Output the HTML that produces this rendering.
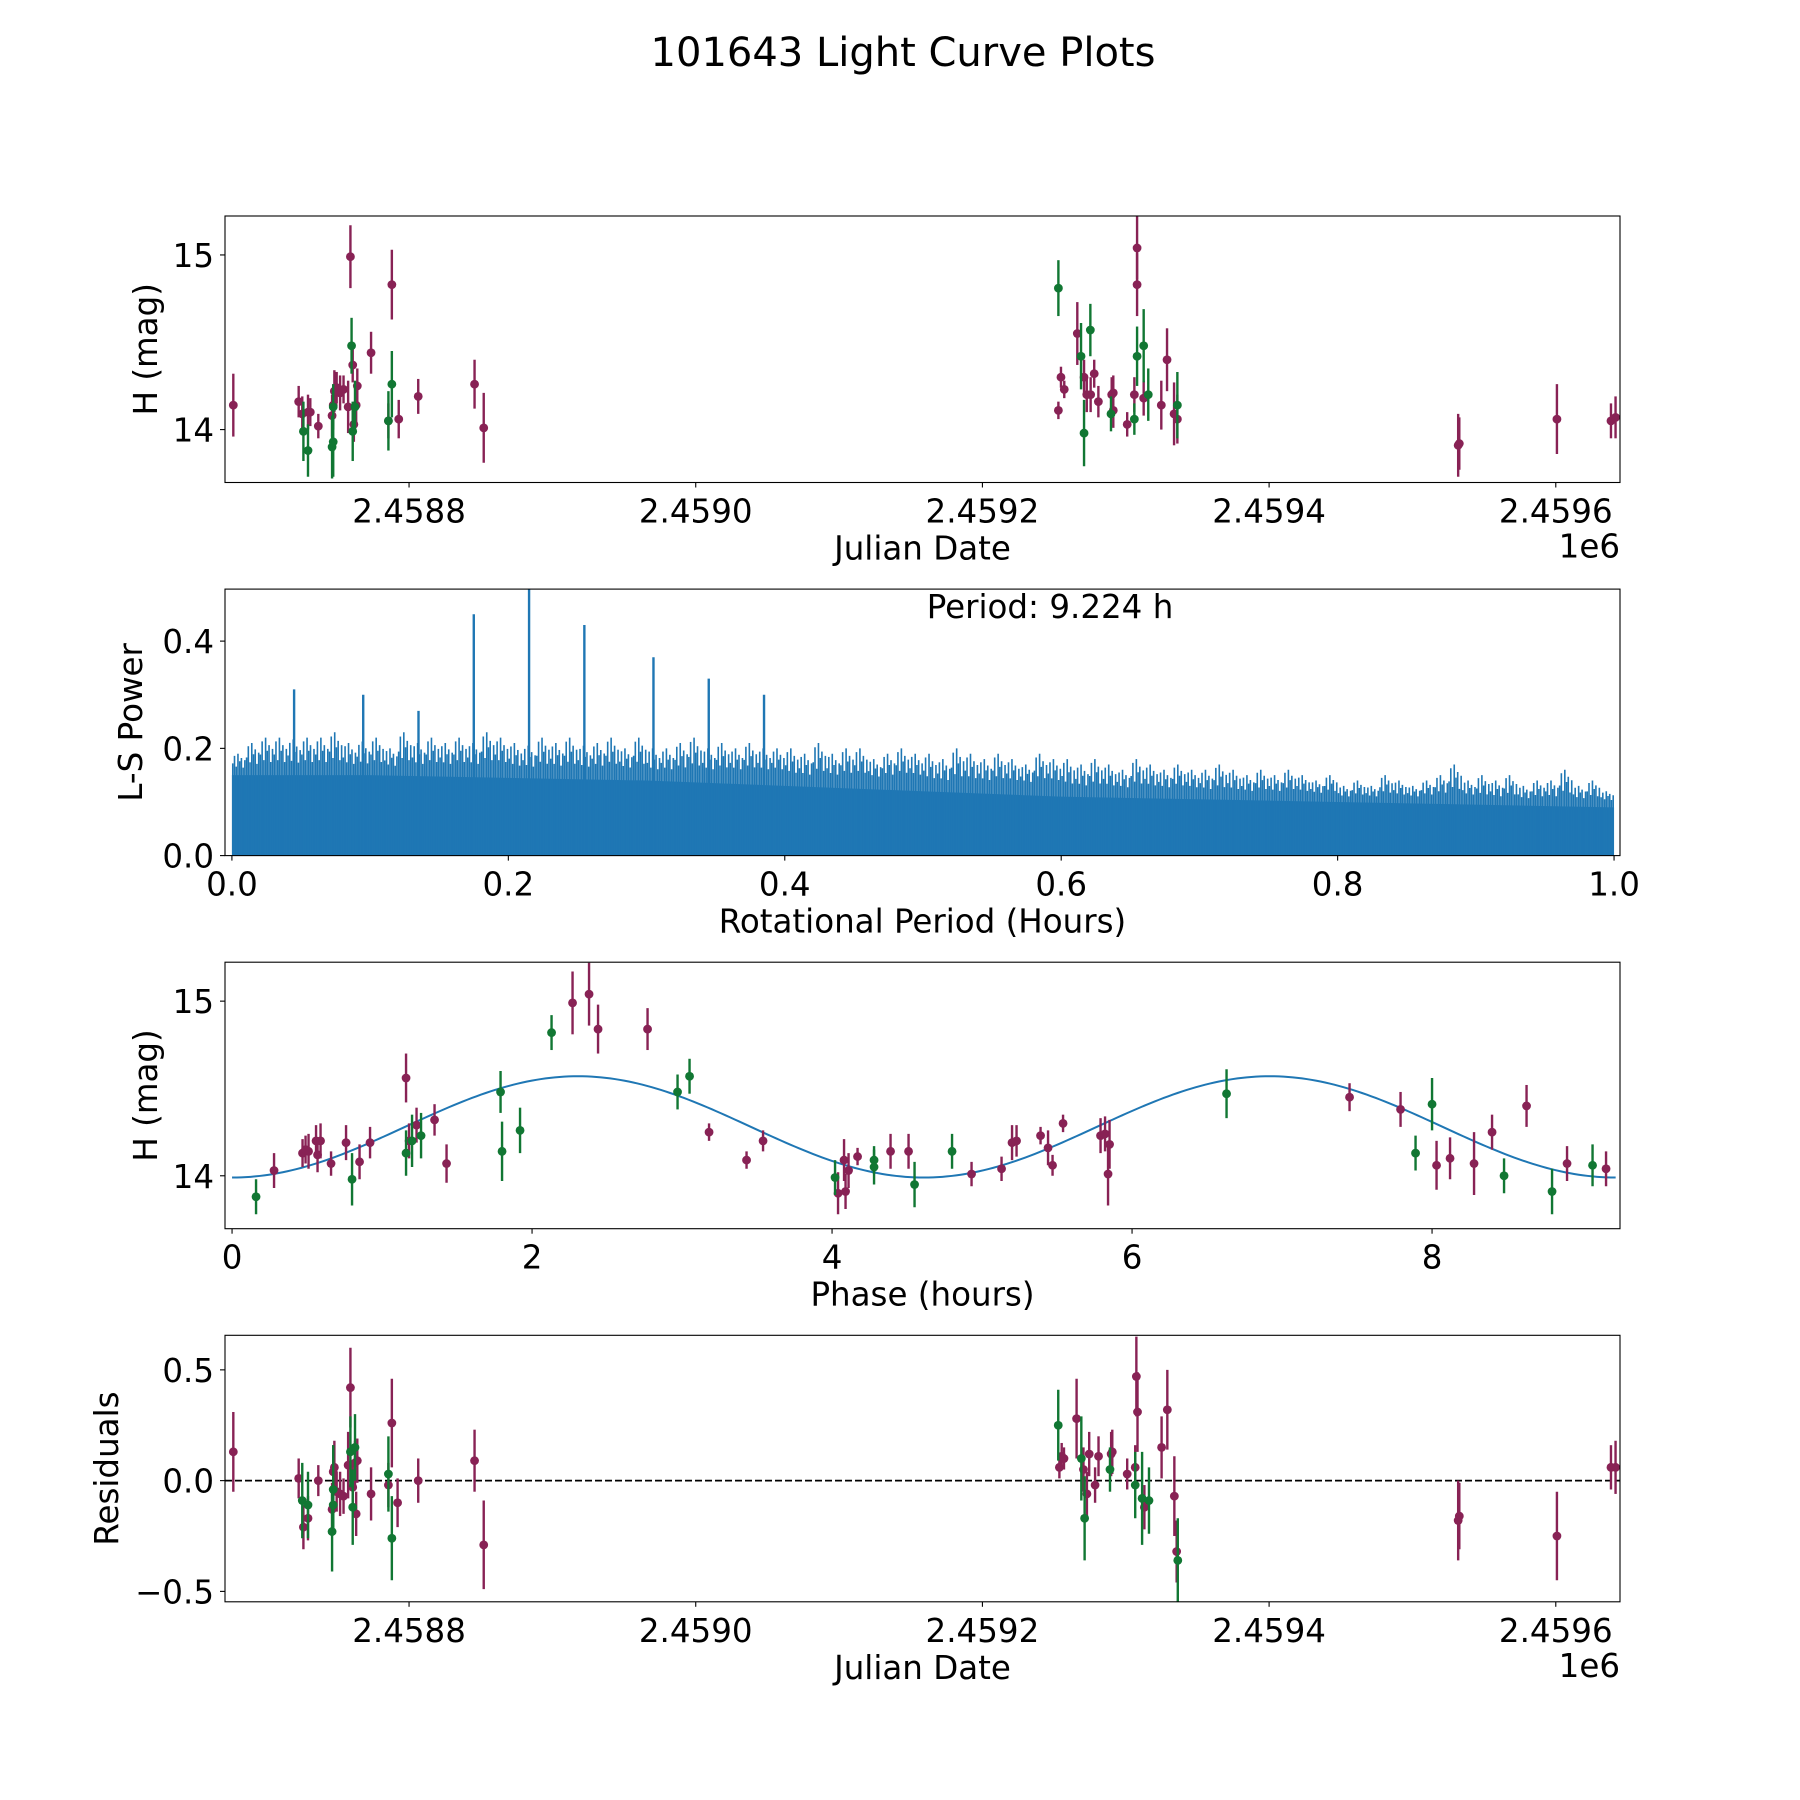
<!DOCTYPE html>
<html><head><meta charset="utf-8">
<style>
html,body{margin:0;padding:0;background:#fff;}
svg{display:block;font-family:"DejaVu Sans","Liberation Sans",sans-serif;}
</style></head>
<body>
<svg id="fig" width="1800" height="1800" viewBox="0 0 1800 1800" xmlns="http://www.w3.org/2000/svg">
<rect x="0" y="0" width="1800" height="1800" fill="#fff"/>
<text x="903" y="66" font-size="40" text-anchor="middle" fill="#000">101643 Light Curve Plots</text>
</svg>
<script>
// ---------- DATA ----------
const lcMagentaJD = [-122.6,-77,-74.5,-70.5,-68.9,-63.3,-53.7,-52.9,-52.1,-50.5,-48.1,-45.7,-42.5,-40.9,-39.3,-38.5,-36.9,-36.1,-26.5,-14.4,-12,-7.2,6.4,45.7,52.1,
 453,454.8,457.1,466.2,470.9,472.8,475.5,478,480.9,490.2,491.3,491.3,501,506,507.9,507.9,512.5,524.8,528.8,533.7,536,
 731.9,732.7,800.8,838.5,841.7];
const lcMagentaMag = [14.14,14.16,14.09,14.10,14.10,14.02,14.08,14.14,14.22,14.24,14.21,14.23,14.13,14.99,14.37,14.03,14.14,14.25,14.44,14.05,14.83,14.06,14.19,14.26,14.01,
 14.11,14.30,14.23,14.55,14.30,14.20,14.20,14.32,14.16,14.20,14.21,14.11,14.03,14.20,15.04,14.83,14.18,14.14,14.40,14.09,14.06,
 13.91,13.92,14.06,14.05,14.07];
const lcMagentaErr = [0.18,0.09,0.1,0.1,0.08,0.07,0.12,0.12,0.12,0.09,0.1,0.08,0.15,0.18,0.1,0.1,0.1,0.1,0.12,0.1,0.2,0.11,0.1,0.14,0.2,
 0.05,0.06,0.05,0.18,0.1,0.1,0.1,0.08,0.09,0.1,0.1,0.1,0.07,0.1,0.18,0.18,0.1,0.14,0.18,0.18,0.14,
 0.18,0.15,0.2,0.1,0.12];
const lcGreenJD = [-73.7,-70.5,-53.7,-52.9,-52.9,-40.1,-39.3,-37.7,-12,-14.4,453,468.8,470.9,475.3,489.7,506,507.9,512.5,515.7,536];
const lcGreenMag = [13.99,13.88,13.90,13.93,14.13,14.48,13.99,14.13,14.26,14.05,14.81,14.42,13.98,14.57,14.09,14.06,14.42,14.48,14.20,14.14];
const lcGreenErr = [0.17,0.15,0.18,0.2,0.13,0.16,0.17,0.15,0.19,0.17,0.16,0.19,0.19,0.15,0.1,0.09,0.17,0.21,0.15,0.19];
const jdTicks = [0,200,400,600,800];

const lsBinMax = [0.19,0.21,0.22,0.22,0.31,0.22,0.22,0.23,0.21,0.30,
 0.22,0.20,0.23,0.27,0.22,0.21,0.22,0.45,0.23,0.22,
 0.21,0.50,0.22,0.21,0.22,0.43,0.21,0.22,0.20,0.22,
 0.37,0.20,0.21,0.22,0.33,0.21,0.20,0.21,0.30,0.20,
 0.20,0.19,0.21,0.19,0.20,0.20,0.18,0.19,0.20,0.19,
 0.19,0.18,0.20,0.19,0.18,0.19,0.18,0.17,0.19,0.18,
 0.18,0.17,0.18,0.17,0.16,0.18,0.17,0.16,0.17,0.16,
 0.16,0.17,0.16,0.15,0.16,0.15,0.16,0.15,0.14,0.15,
 0.13,0.14,0.13,0.15,0.14,0.13,0.14,0.15,0.17,0.14,
 0.15,0.14,0.15,0.13,0.14,0.14,0.16,0.13,0.14,0.12];
const lsDenseLevel = [0.15,0.15,0.145,0.14,0.13,0.12,0.11,0.105,0.10,0.095,0.09];
const lsXTicks = [0,0.2,0.4,0.6,0.8,1.0];
const lsYTicks = [0,0.2,0.4];

const phMagentaPhase = [0.28,0.47,0.49,0.51,0.56,0.57,0.59,0.66,0.76,0.85,0.92,1.16,1.18,1.23,1.35,1.43,2.27,2.38,2.44,2.77,3.18,3.43,3.54,4.04,4.08,4.09,4.11,4.17,4.39,4.51,4.93,5.13,5.20,5.23,5.39,5.44,5.47,5.54,5.79,5.82,5.84,5.85,7.45,7.79,8.03,8.12,8.28,8.40,8.63,8.90,9.16];
const phMagentaMag = [14.03,14.13,14.15,14.14,14.20,14.12,14.20,14.07,14.19,14.08,14.19,14.56,14.20,14.29,14.32,14.07,14.99,15.04,14.84,14.84,14.25,14.09,14.20,13.90,14.09,13.91,14.03,14.11,14.14,14.14,14.01,14.04,14.19,14.20,14.23,14.16,14.06,14.30,14.23,14.24,14.01,14.18,14.45,14.38,14.06,14.10,14.07,14.25,14.40,14.07,14.04];
const phMagentaErr = [0.1,0.08,0.08,0.1,0.09,0.1,0.1,0.07,0.1,0.1,0.09,0.14,0.1,0.1,0.09,0.11,0.18,0.18,0.14,0.12,0.05,0.05,0.06,0.12,0.12,0.1,0.1,0.05,0.1,0.1,0.07,0.07,0.1,0.09,0.05,0.1,0.06,0.05,0.1,0.1,0.18,0.14,0.08,0.1,0.14,0.12,0.18,0.1,0.12,0.1,0.1];
const phGreenPhase = [0.16,0.80,1.16,1.20,1.26,1.79,1.80,1.92,2.13,2.97,3.05,4.02,4.28,4.28,4.55,4.80,6.63,7.89,8.00,8.48,8.80,9.07];
const phGreenMag = [13.88,13.98,14.13,14.20,14.23,14.48,14.14,14.26,14.82,14.48,14.57,13.99,14.09,14.05,13.95,14.14,14.47,14.13,14.41,14.00,13.91,14.06];
const phGreenErr = [0.1,0.15,0.13,0.15,0.13,0.12,0.17,0.13,0.1,0.1,0.1,0.1,0.08,0.1,0.13,0.1,0.14,0.1,0.15,0.1,0.13,0.12];
const phXTicks = [0,2,4,6,8];
const fitMean = 14.28, fitAmp = 0.29, fitPeriodHours = 9.224;

const resMagentaJD = [-122.6,-77,-73.7,-70.5,-63.3,-53.7,-52.9,-52.1,-50.5,-48.1,-45.7,-42.5,-40.9,-39.3,-37.7,-36.9,-36.1,-26.5,-14.4,-12,-8,6.4,45.7,52.1,
 453.7,455.3,456.9,465.7,470.5,472.9,474.5,478.6,481,489.8,490.6,501,506.6,507.4,508.2,513,525,529,533.9,535.5,731.9,732.7,800.8,838.5,841.7];
const resMagentaVal = [0.13,0.01,-0.21,-0.17,0.0,-0.13,0.04,0.06,-0.05,-0.06,-0.07,0.07,0.42,-0.03,0.08,-0.15,0.09,-0.06,-0.02,0.26,-0.10,0.0,0.09,-0.29,
 0.06,0.11,0.10,0.28,0.05,-0.06,0.12,-0.02,0.11,0.12,0.13,0.03,0.06,0.47,0.31,-0.12,0.15,0.32,-0.07,-0.32,-0.18,-0.16,-0.25,0.06,0.06];
const resMagentaErr = [0.18,0.09,0.1,0.1,0.07,0.12,0.12,0.12,0.09,0.1,0.08,0.15,0.18,0.1,0.1,0.1,0.1,0.12,0.1,0.2,0.11,0.1,0.14,0.2,
 0.05,0.06,0.05,0.18,0.1,0.1,0.1,0.08,0.09,0.1,0.1,0.07,0.1,0.18,0.18,0.1,0.14,0.18,0.18,0.14,0.18,0.15,0.2,0.1,0.12];
const resGreenJD = [-74.5,-70.5,-53.7,-52.9,-52.9,-40.9,-39.3,-37.7,-14.4,-12,452.9,469,471.3,489,506.6,511.4,516.2,536.3];
const resGreenVal = [-0.09,-0.11,-0.23,-0.04,-0.11,0.13,-0.12,0.15,0.03,-0.26,0.25,0.10,-0.17,0.05,-0.02,-0.08,-0.09,-0.36];
const resGreenErr = [0.17,0.15,0.18,0.2,0.13,0.16,0.17,0.15,0.17,0.19,0.16,0.19,0.19,0.1,0.15,0.21,0.15,0.19];
const resYTicks = [-0.5,0.0,0.5];
const magTicks = [14,15];

// ---------- DRAWING ----------
const NS = "http://www.w3.org/2000/svg";
const svg = document.getElementById("fig");
const MAG = "#882255", GRN = "#117733", BLUE = "#1f77b4";
const L = 225, R = 1620, AH = 266.5, FS = 32.5;
const tops = [216, 589.1, 962.2, 1335.3];

function mk(tag, attrs, parent) {
  const e = document.createElementNS(NS, tag);
  for (const k in attrs) e.setAttribute(k, attrs[k]);
  (parent || svg).appendChild(e);
  return e;
}
function lin(d0, d1, p0, p1) { return v => p0 + (v - d0) / (d1 - d0) * (p1 - p0); }

function makeAxes(i, name) {
  const g = mk("g", {});
  
  
  const clipId = "clip" + i;
  const cp = mk("clipPath", {id: clipId}, g);
  mk("rect", {x: L, y: tops[i], width: R - L, height: AH}, cp);
  const plot = mk("g", {"clip-path": "url(#" + clipId + ")"}, g);
  
  
  return {g, plot, top: tops[i], bot: tops[i] + AH};
}
function frame(ax, name) {
  const r = mk("rect", {x: L, y: ax.top, width: R - L, height: AH, fill: "none", stroke: "#000", "stroke-width": 1.1}, ax.g);
  
  
}
function xTicks(ax, ticks, sx, fmt, name) {
  ticks.forEach(t => {
    const x = sx(t);
    const tl = mk("line", {x1: x, x2: x, y1: ax.bot, y2: ax.bot + 5, stroke: "#000", "stroke-width": 1.1}, ax.g);
    
    
    const tx = mk("text", {x: x, y: ax.bot + 40, "font-size": FS, "text-anchor": "middle"}, ax.g);
    tx.textContent = fmt(t);
    
    
  });
}
function yTicks(ax, ticks, sy, fmt, name) {
  ticks.forEach(t => {
    const y = sy(t);
    const tl = mk("line", {x1: L - 5, x2: L, y1: y, y2: y, stroke: "#000", "stroke-width": 1.1}, ax.g);
    
    
    const tx = mk("text", {x: L - 11, y: y + 12, "font-size": FS, "text-anchor": "end"}, ax.g);
    tx.textContent = fmt(t);
    
    
  });
}
function xLabel(ax, text, name) {
  const t = mk("text", {x: (L + R) / 2, y: ax.bot + 77, "font-size": FS, "text-anchor": "middle"}, ax.g);
  t.textContent = text;
  
  
}
function yLabel(ax, text, xpos, name) {
  const cy = (ax.top + ax.bot) / 2;
  const t = mk("text", {x: xpos, y: cy, "font-size": FS, "text-anchor": "middle", transform: "rotate(-90 " + xpos + " " + cy + ")"}, ax.g);
  t.textContent = text;
  
  
}
function offsetLabel(ax, name) {
  const t = mk("text", {x: R, y: ax.bot + 75, "font-size": FS, "text-anchor": "end"}, ax.g);
  t.textContent = "1e6";
  
  
}
function errSeries(parent, xs, ys, es, sx, sy, color, name) {
  const g = mk("g", {}, parent);
  
  
  for (let k = 0; k < xs.length; k++) {
    const x = sx(xs[k]);
    const bar = mk("line", {x1: x, x2: x, y1: sy(ys[k] - es[k]), y2: sy(ys[k] + es[k]), stroke: color, "stroke-width": 2.4}, g);
    
    
    const c = mk("circle", {cx: x, cy: sy(ys[k]), r: 4.4, fill: color}, g);
    
    
  }
}
const jdFmt = t => ((2458800 + t) / 1e6).toFixed(4);

// Panel 1
(function () {
  const ax = makeAxes(0, "light-curve-panel");
  const sx = lin(-128.4, 844.8, L, R);
  const sy = lin(13.697, 15.223, ax.bot, ax.top);
  errSeries(ax.plot, lcMagentaJD, lcMagentaMag, lcMagentaErr, sx, sy, MAG, "light-curve-filter-a");
  errSeries(ax.plot, lcGreenJD, lcGreenMag, lcGreenErr, sx, sy, GRN, "light-curve-filter-b");
  frame(ax, "light-curve");
  xTicks(ax, jdTicks, sx, jdFmt, "light-curve");
  yTicks(ax, magTicks, sy, t => String(t), "light-curve");
  xLabel(ax, "Julian Date", "light-curve-x-axis-title");
  yLabel(ax, "H (mag)", 157, "light-curve-y-axis-title");
  offsetLabel(ax, "light-curve-x-offset-label");
})();

// Panel 2
(function () {
  const ax = makeAxes(1, "periodogram-panel");
  const sx = lin(-0.005, 1.0043, L, R);
  const sy = lin(0, 0.497, ax.bot, ax.top);
  let pts = [];
  lsDenseLevel.forEach((v, k) => pts.push(sx(Math.min(k * 0.1, 1.0)) + "," + sy(v)));
  const poly = mk("polygon", {points: sx(0) + "," + sy(0) + " " + pts.join(" ") + " " + sx(1.0) + "," + sy(0), fill: BLUE}, ax.plot);
  
  
  const hair = mk("g", {}, ax.plot);
  
  
  lsBinMax.forEach((v, k) => {
    const dense = lsDenseLevel[Math.min(Math.floor((k + 0.5) * 0.1), 10)];
    const base = v > 0.26 ? Math.max(dense + 0.06, 0.22 - k * 0.0008) : v;
    for (let j = 0; j < 8; j++) {
      const p = (k + (j + 0.5) / 8) * 0.01;
      const h = dense + (base - dense) * [0.55, 0.9, 0.4, 1.0, 0.65, 0.8, 0.35, 0.7][j];
      const ln = mk("line", {x1: sx(p), x2: sx(p), y1: sy(0), y2: sy(h), stroke: BLUE, "stroke-width": 1.6}, hair);
      
      
    }
    if (v > 0.26) {
      const x = sx((k + 0.5) * 0.01);
      const ln = mk("line", {x1: x, x2: x, y1: sy(0), y2: sy(v), stroke: BLUE, "stroke-width": 2.4}, hair);
      
      
    }
  });
  frame(ax, "periodogram");
  xTicks(ax, lsXTicks, sx, t => t.toFixed(1), "periodogram");
  yTicks(ax, lsYTicks, sy, t => t.toFixed(1), "periodogram");
  xLabel(ax, "Rotational Period (Hours)", "periodogram-x-axis-title");
  yLabel(ax, "L-S Power", 142, "periodogram-y-axis-title");
  const pt = mk("text", {x: 1050, y: 618, "font-size": FS, "text-anchor": "middle"}, ax.g);
  pt.textContent = "Period: 9.224 h";
  
  
})();

// Panel 3
(function () {
  const ax = makeAxes(2, "phase-panel");
  const sx = lin(-0.047, 9.253, L, R);
  const sy = lin(13.697, 15.223, ax.bot, ax.top);
  let d = "";
  for (let k = 0; k <= 300; k++) {
    const p = fitPeriodHours * k / 300;
    const m = fitMean - fitAmp * Math.cos(4 * Math.PI * p / fitPeriodHours);
    d += (k ? "L" : "M") + sx(p).toFixed(2) + " " + sy(m).toFixed(2);
  }
  const fit = mk("path", {d: d, fill: "none", stroke: BLUE, "stroke-width": 2}, ax.plot);
  
  
  errSeries(ax.plot, phMagentaPhase, phMagentaMag, phMagentaErr, sx, sy, MAG, "phase-filter-a");
  errSeries(ax.plot, phGreenPhase, phGreenMag, phGreenErr, sx, sy, GRN, "phase-filter-b");
  frame(ax, "phase");
  xTicks(ax, phXTicks, sx, t => String(t), "phase");
  yTicks(ax, magTicks, sy, t => String(t), "phase");
  xLabel(ax, "Phase (hours)", "phase-x-axis-title");
  yLabel(ax, "H (mag)", 157, "phase-y-axis-title");
})();

// Panel 4
(function () {
  const ax = makeAxes(3, "residuals-panel");
  const sx = lin(-128.4, 844.8, L, R);
  const sy = lin(-0.547, 0.656, ax.bot, ax.top);
  const zl = mk("line", {x1: L, x2: R, y1: sy(0), y2: sy(0), stroke: "#000", "stroke-width": 1.8, "stroke-dasharray": "7,3"}, ax.plot);
  
  
  errSeries(ax.plot, resMagentaJD, resMagentaVal, resMagentaErr, sx, sy, MAG, "residuals-filter-a");
  errSeries(ax.plot, resGreenJD, resGreenVal, resGreenErr, sx, sy, GRN, "residuals-filter-b");
  frame(ax, "residuals");
  xTicks(ax, jdTicks, sx, jdFmt, "residuals");
  yTicks(ax, resYTicks, sy, t => (t < 0 ? "\u2212" : "") + Math.abs(t).toFixed(1), "residuals");
  xLabel(ax, "Julian Date", "residuals-x-axis-title");
  yLabel(ax, "Residuals", 118, "residuals-y-axis-title");
  offsetLabel(ax, "residuals-x-offset-label");
})();
</script>
</body></html>
